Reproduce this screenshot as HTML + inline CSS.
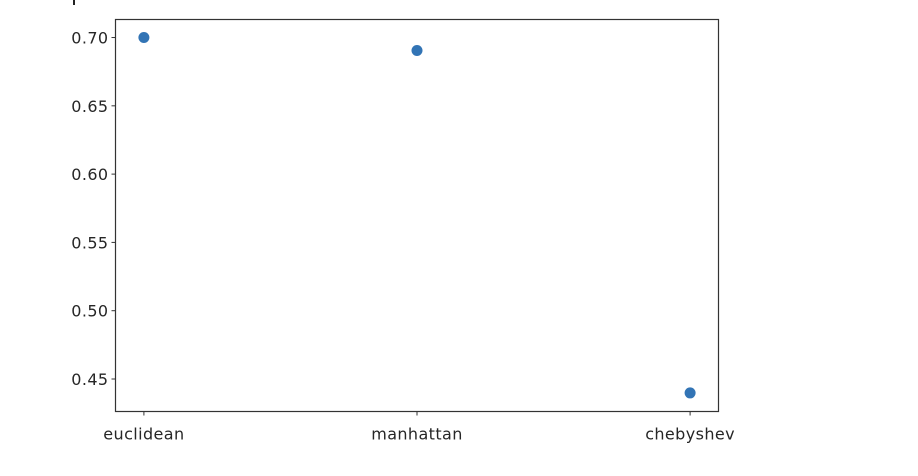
<!DOCTYPE html>
<html><head><meta charset="utf-8"><style>
html,body{margin:0;padding:0;background:#fff;}
svg{display:block;font-family:"DejaVu Sans","Liberation Sans",sans-serif;}
</style></head><body>
<svg id="chart" width="918" height="476" viewBox="0 0 918 476" xmlns="http://www.w3.org/2000/svg">
<rect x="0" y="0" width="918" height="476" fill="#fff"/>
<rect x="73" y="0" width="2" height="5" fill="#222"/>
<g id="plot"></g>
</svg>
<script>
const categories = ["euclidean", "manhattan", "chebyshev"];
const values = [0.700, 0.6905, 0.4398];
const yTicks = [0.45, 0.50, 0.55, 0.60, 0.65, 0.70];
const yTickLabels = ["0.45", "0.50", "0.55", "0.60", "0.65", "0.70"];

const L = 115.5, R = 718.5, T = 19.5, B = 411.5;
const yMin = 0.4262, yMax = 0.7132;
const xMin = -0.104, xMax = 2.104;
const sx = i => L + (i - xMin) / (xMax - xMin) * (R - L);
const sy = v => B - (v - yMin) / (yMax - yMin) * (B - T);
const NS = "http://www.w3.org/2000/svg";
const g = document.getElementById('plot');
function mk(tag, attrs) { const e = document.createElementNS(NS, tag); for (const k in attrs) e.setAttribute(k, attrs[k]); g.appendChild(e); return e; }

yTicks.forEach((v, i) => {
  const y = sy(v);
  const t = mk('line', {x1: L - 4, x2: L, y1: y, y2: y, stroke: '#333', 'stroke-width': 1});
  
  
  const lb = mk('text', {x: L - 7, y: y + 6, 'text-anchor': 'end', 'font-size': 16, 'letter-spacing': 0.4, fill: '#262626'});
  lb.textContent = yTickLabels[i];
  
  
});
categories.forEach((c, i) => {
  const x = sx(i);
  const t = mk('line', {x1: x, x2: x, y1: B, y2: B + 4, stroke: '#333', 'stroke-width': 1});
  
  
  const lb = mk('text', {x: x, y: B + 28, 'text-anchor': 'middle', 'font-size': 16, 'letter-spacing': 0.4, fill: '#262626'});
  lb.textContent = c;
  
  
});
const frame = mk('rect', {x: L, y: T, width: R - L, height: B - T, fill: 'none', stroke: '#333', 'stroke-width': 1.2});


values.forEach((v, i) => {
  const p = mk('circle', {cx: sx(i), cy: sy(v), r: 5.5, fill: '#3274b5'});
  
  
});
</script>
</body></html>
